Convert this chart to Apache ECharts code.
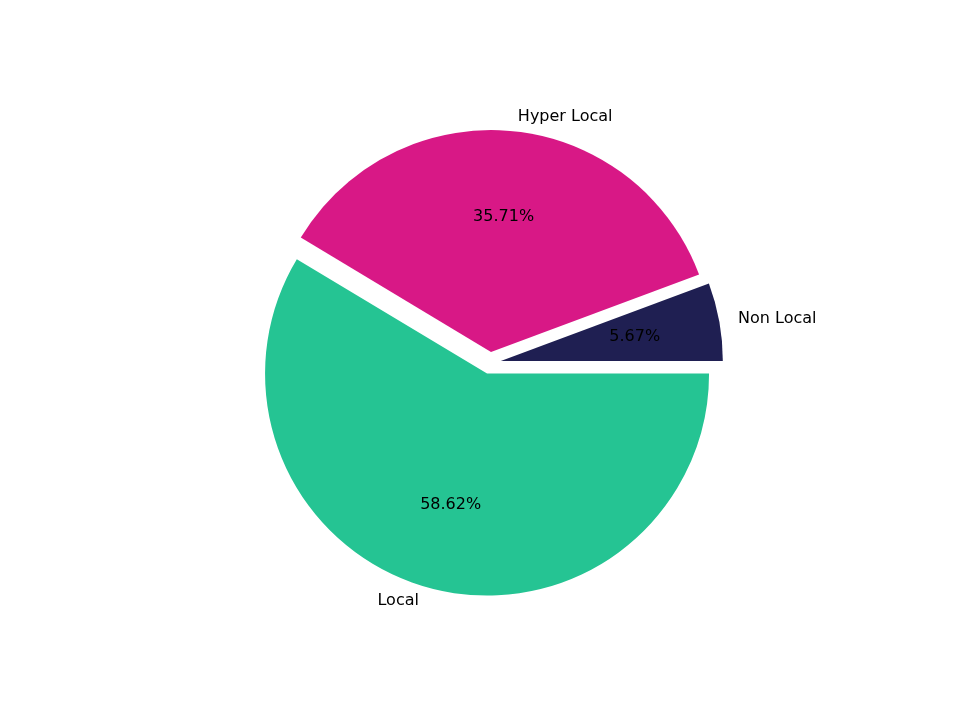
<!DOCTYPE html>
<html>
<head>
<meta charset="utf-8">
<script src="https://cdn.jsdelivr.net/npm/echarts@6/dist/echarts.min.js"></script>
<style>body{margin:0;background:#fff}</style>
</head>
<body>
<div id="pie" style="width:960px;height:720px"></div>
<script>
const categories = ['Non Local', 'Hyper Local', 'Local'];
const values = [5.67, 35.71, 58.62];
const colors = ['#1f1f52', '#d81886', '#25c493'];

const chart = echarts.init(document.getElementById('pie'));
const items = categories.map((c, i) => ({
  name: c, value: values[i], selected: true, itemStyle: { color: colors[i] }
}));
const common = {
  type: 'pie',
  center: [490, 363],
  startAngle: 0,
  clockwise: false,
  selectedMode: 'multiple',
  selectedOffset: 11,
  avoidLabelOverlap: false,
  emphasis: { disabled: true },
  animation: false
};
chart.setOption({
  series: [
    Object.assign({}, common, {
      radius: [0, 222],
      data: items,
      label: { position: 'outside', color: '#000', fontSize: 16, fontFamily: 'DejaVu Sans', formatter: '{b}' },
      labelLine: { show: false, length: 14, length2: 0 }
    }),
    Object.assign({}, common, {
      radius: [44, 222],
      silent: true,
      data: items.map(d => Object.assign({}, d, { itemStyle: { color: 'rgba(0,0,0,0)' } })),
      label: { position: 'inside', color: '#000', fontSize: 16, fontFamily: 'DejaVu Sans',
        formatter: p => p.value.toFixed(2) + '%' },
      labelLine: { show: false }
    })
  ]
});
</script>
</body>
</html>
